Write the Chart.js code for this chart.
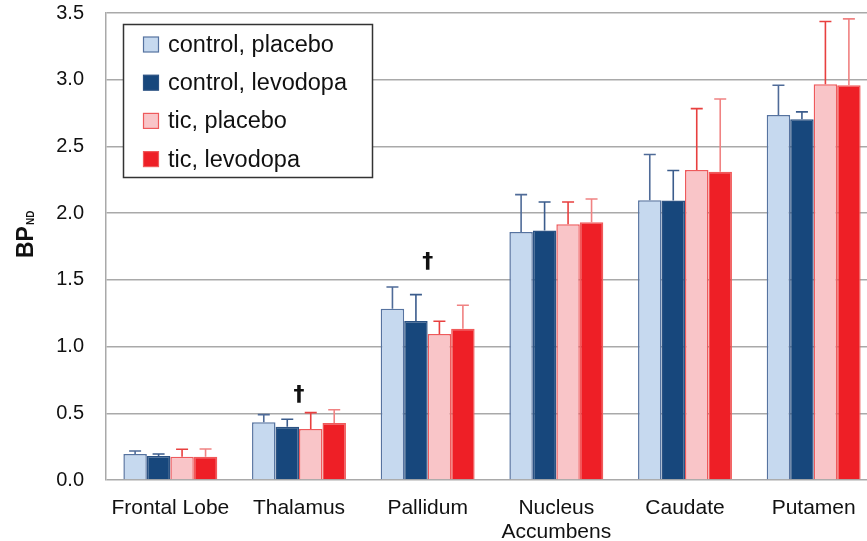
<!DOCTYPE html>
<html>
<head>
<meta charset="utf-8">
<script src="https://cdn.jsdelivr.net/npm/chart.js@4.4.0/dist/chart.umd.min.js"></script>
<style>
html,body{margin:0;padding:0;background:#fff;overflow:hidden;}
#wrap{width:880px;height:541px;}
</style>
</head>
<body>
<div id="wrap"><canvas id="c" width="880" height="541"></canvas></div>
<script>
// ---- data ----
const categories = ['Frontal Lobe', 'Thalamus', 'Pallidum', ['Nucleus', 'Accumbens'], 'Caudate', 'Putamen'];
const seriesNames = ['control, placebo', 'control, levodopa', 'tic, placebo', 'tic, levodopa'];
const controlPlacebo  = [0.195, 0.432, 1.284, 1.859, 2.097, 2.736];
const controlLevodopa = [0.180, 0.400, 1.192, 1.869, 2.094, 2.704];
const ticPlacebo      = [0.175, 0.382, 1.094, 1.917, 2.324, 2.966];
const ticLevodopa     = [0.175, 0.427, 1.134, 1.932, 2.311, 2.959];
const errControlPlacebo  = [0.022, 0.058, 0.163, 0.280, 0.343, 0.223];
const errControlLevodopa = [0.015, 0.055, 0.197, 0.215, 0.226, 0.055];
const errTicPlacebo      = [0.055, 0.123, 0.096, 0.167, 0.459, 0.470];
const errTicLevodopa     = [0.057, 0.100, 0.176, 0.174, 0.545, 0.497];
const yTicks = [0, 0.5, 1.0, 1.5, 2.0, 2.5, 3.0, 3.5];
const daggerCategoryIndex = [1, 2];
const daggerValue = [0.637, 1.63];

const fills   = ['#c6d9ef', '#17477c', '#f9c5c8', '#ee1f26'];
const borders = ['#5673a0', '#2b5283', '#ee5a5c', '#f05a5a'];
const errCols = ['#4f6b98', '#3b5c8c', '#e8403f', '#f08282'];
const values = [controlPlacebo, controlLevodopa, ticPlacebo, ticLevodopa];
const errors = [errControlPlacebo, errControlLevodopa, errTicPlacebo, errTicLevodopa];

const FONT = '"Liberation Sans", Arial, Helvetica, sans-serif';

const extras = {
  id: 'extras',
  afterDatasetsDraw(chart) {
    const ctx = chart.ctx;
    const y = chart.scales.y;
    // error bars
    chart.data.datasets.forEach((ds, i) => {
      const meta = chart.getDatasetMeta(i);
      meta.data.forEach((bar, j) => {
        const top = bar.y;
        const ey = y.getPixelForValue(ds.data[j] + errors[i][j]);
        ctx.save();
        ctx.strokeStyle = errCols[i];
        ctx.lineWidth = 1.6;
        ctx.beginPath();
        ctx.moveTo(bar.x, top);
        ctx.lineTo(bar.x, ey);
        ctx.moveTo(bar.x - 6, ey);
        ctx.lineTo(bar.x + 6, ey);
        ctx.stroke();
        ctx.restore();
      });
    });
    // daggers
    const m0 = chart.getDatasetMeta(1), m1 = chart.getDatasetMeta(2);
    daggerCategoryIndex.forEach((ci, k) => {
      const cx = (m0.data[ci].x + m0.data[ci].width / 2 + m1.data[ci].x - m1.data[ci].width / 2) / 2;
      const cy = y.getPixelForValue(daggerValue[k]);
      ctx.save();
      ctx.fillStyle = '#111';
      ctx.font = 'bold 22px "DejaVu Sans", ' + FONT;
      ctx.textAlign = 'center';
      ctx.textBaseline = 'middle';
      ctx.fillText('\u2020', cx, cy);
      ctx.restore();
    });
    // legend
    ctx.save();
    const lx = 123.5, ly = 24.5, lw = 249, lh = 153;
    ctx.fillStyle = '#fff';
    ctx.fillRect(lx, ly, lw, lh);
    ctx.strokeStyle = '#333';
    ctx.lineWidth = 1.5;
    ctx.strokeRect(lx, ly, lw, lh);
    ctx.font = '23.5px ' + FONT;
    ctx.textBaseline = 'middle';
    ctx.textAlign = 'left';
    chart.data.datasets.forEach((ds, i) => {
      const cy = 44.5 + i * 38.2;
      ctx.fillStyle = fills[i];
      ctx.fillRect(143.5, cy - 7.5, 15, 15);
      ctx.strokeStyle = borders[i];
      ctx.lineWidth = 1.2;
      ctx.strokeRect(143.5, cy - 7.5, 15, 15);
      ctx.fillStyle = '#111';
      ctx.fillText(ds.label, 168, cy + 1);
    });
    ctx.restore();
    // y axis title BP_ND
    ctx.save();
    ctx.translate(33, 258);
    ctx.rotate(-Math.PI / 2);
    ctx.fillStyle = '#111';
    ctx.font = 'bold 23px ' + FONT;
    ctx.textBaseline = 'alphabetic';
    ctx.textAlign = 'left';
    ctx.fillText('BP', 0, 0);
    const w = ctx.measureText('BP').width;
    ctx.font = 'bold 10px ' + FONT;
    ctx.fillText('ND', w + 1, 1);
    ctx.restore();
  }
};

new Chart(document.getElementById('c'), {
  type: 'bar',
  data: {
    labels: categories,
    datasets: seriesNames.map((name, i) => ({
      label: name,
      data: values[i],
      backgroundColor: fills[i],
      borderColor: borders[i],
      borderWidth: 1.5,
      borderSkipped: 'bottom',
      categoryPercentage: 0.73,
      barPercentage: 1.0
    }))
  },
  options: {
    responsive: false,
    animation: false,
    devicePixelRatio: 1,
    layout: { padding: { top: 13, right: 2, left: 0, bottom: 0 } },
    plugins: { legend: { display: false }, tooltip: { enabled: false } },
    scales: {
      x: {
        grid: { display: false, drawTicks: false },
        border: { display: false },
        ticks: { color: '#111', font: { size: 21, family: FONT, lineHeight: 1.15 }, padding: 16, maxRotation: 0, autoSkip: false },
        afterFit(s) { s.height = 61; s.paddingLeft = 0; s.paddingRight = 0; }
      },
      y: {
        min: 0, max: 3.5,
        afterBuildTicks(s) { s.ticks = yTicks.map(v => ({ value: v })); },
        grid: { color: '#a9a9a9', lineWidth: 1.5, drawTicks: false },
        border: { color: '#a9a9a9', width: 1.5 },
        ticks: { color: '#111', font: { size: 20, family: FONT }, padding: 22, callback: v => v.toFixed(1) },
        afterFit(s) { s.width = 106; s.paddingTop = 0; s.paddingBottom = 0; }
      }
    }
  },
  plugins: [extras]
});
</script>
</body>
</html>
